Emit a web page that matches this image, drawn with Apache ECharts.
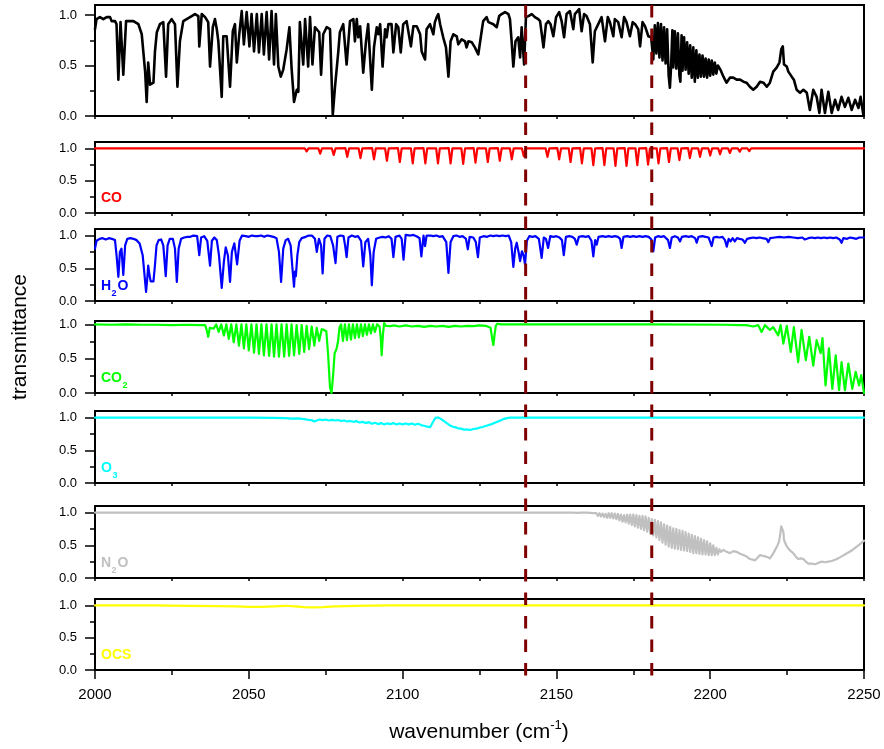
<!DOCTYPE html>
<html>
<head>
<meta charset="utf-8">
<script src="https://cdn.jsdelivr.net/npm/echarts/dist/echarts.min.js"></script>
<style>
html,body{margin:0;padding:0;background:#fff;}
#main{width:884px;height:749px;}
</style>
</head>
<body>
<div id="main"></div>
<script>
// ---------------- DATA (wavenumber, transmittance) ----------------
const xTicksMajor = [2000, 2050, 2100, 2150, 2200, 2250];
const yTickLabels = [0, 0.5, 1.0];
const markerLines = [2140, 2181];

const totalData = [
[2000.0,0.86],[2000.5,0.96],[2001.6,0.98],[2002.7,0.96],[2003.8,0.98],[2004.9,0.98],[2005.4,0.94],[2005.9,0.93],[2006.5,0.94],[2007.0,0.91],
[2007.6,0.36],[2008.3,0.93],[2009.2,0.41],[2010.1,0.94],[2012.5,0.94],[2014.1,0.91],[2015.2,0.81],[2016.3,0.44],[2016.8,0.14],[2017.3,0.53],
[2017.9,0.31],[2019.0,0.33],[2019.5,0.64],[2020.1,0.83],[2021.1,0.91],[2022.2,0.93],[2023.1,0.39],[2023.8,0.91],[2024.9,0.96],[2026.0,0.91],
[2026.8,0.29],[2027.6,0.74],[2028.7,0.94],[2030.9,0.98],[2032.5,1.01],[2033.6,0.99],[2033.9,0.69],[2034.7,1.01],[2035.8,0.98],[2036.8,0.93],
[2037.4,0.49],[2038.3,0.88],[2039.0,0.96],[2039.6,0.86],[2040.1,0.74],[2041.2,0.19],[2041.7,0.79],[2042.3,0.78],[2042.8,0.79],[2043.9,0.29],
[2044.8,0.84],[2045.5,0.91],[2046.1,0.53],[2046.9,0.81],[2047.7,1.04],[2048.4,0.71],[2049.3,1.03],[2050.2,0.69],[2050.9,1.01],[2051.7,0.64],
[2052.6,1.01],[2053.3,0.63],[2054.2,1.01],[2054.9,0.61],[2055.8,1.03],[2056.6,0.56],[2057.4,1.04],[2058.2,0.51],[2058.8,1.01],[2059.6,0.49],
[2060.4,0.39],[2061.2,0.46],[2062.3,0.66],[2063.2,0.88],[2063.9,0.48],[2064.7,0.14],[2065.6,0.26],[2066.1,0.24],[2066.6,0.93],[2067.7,0.51],
[2068.3,0.96],[2069.3,0.49],[2069.9,0.98],[2070.7,0.51],[2071.5,0.88],[2072.9,0.83],[2073.5,0.41],[2074.2,0.81],[2075.3,0.88],[2076.4,0.86],
[2077.3,0.01],[2078.0,0.28],[2079.1,0.64],[2079.6,0.83],[2080.7,0.91],[2081.8,0.51],[2082.9,0.94],[2084.0,0.96],[2084.5,0.74],[2085.1,0.96],
[2085.6,0.78],[2086.2,0.89],[2087.2,0.43],[2088.1,0.74],[2088.8,0.91],[2090.0,0.26],[2090.7,0.68],[2091.6,0.88],[2092.1,0.81],[2092.7,0.91],
[2093.5,0.49],[2094.3,0.86],[2094.8,0.78],[2095.4,0.91],[2096.4,0.91],[2097.0,0.63],[2097.9,0.91],[2098.6,0.88],[2099.4,0.63],[2100.2,0.91],
[2101.3,0.94],[2101.9,0.93],[2102.7,0.69],[2103.5,0.89],[2104.6,0.89],[2105.7,0.81],[2106.2,0.64],[2107.3,0.56],[2107.8,0.86],[2108.9,0.91],
[2110.0,0.81],[2110.5,0.93],[2111.1,0.98],[2111.6,1.01],[2112.2,0.91],[2113.2,0.78],[2114.1,0.68],[2114.9,0.39],[2115.6,0.74],[2116.5,0.81],
[2117.6,0.79],[2118.1,0.71],[2119.2,0.76],[2120.3,0.74],[2120.8,0.68],[2121.4,0.74],[2122.5,0.73],[2123.5,0.68],[2124.6,0.61],[2125.7,0.84],
[2126.2,0.94],[2127.3,0.98],[2127.9,0.93],[2129.5,0.91],[2130.6,0.88],[2131.4,0.99],[2132.2,1.01],[2133.3,1.03],[2134.4,1.01],[2134.9,0.96],
[2135.4,0.76],[2136.0,0.49],[2136.7,0.74],[2137.6,0.78],[2138.2,0.58],[2138.7,0.88],[2139.5,0.51],[2140.1,0.98],[2140.9,0.99],[2142.0,1.01],
[2143.0,0.98],[2144.1,0.96],[2144.7,0.94],[2145.8,0.68],[2146.6,0.91],[2147.4,0.94],[2148.1,0.91],[2149.0,0.79],[2149.9,0.98],[2150.9,1.03],
[2151.7,0.94],[2152.5,0.78],[2153.3,1.01],[2154.4,1.04],[2155.5,0.86],[2156.0,1.01],[2157.4,1.06],[2158.2,0.84],[2159.0,1.01],[2159.8,0.99],
[2160.9,0.91],[2161.8,0.53],[2162.5,0.84],[2163.6,0.91],[2164.7,0.98],[2165.8,0.74],[2166.7,0.98],[2167.4,0.93],[2168.5,0.79],[2169.0,0.96],
[2170.1,0.93],[2171.2,0.78],[2172.0,0.98],[2172.8,0.93],[2173.9,0.79],[2174.8,0.93],[2175.6,0.91],[2176.6,0.86],[2177.2,0.69],[2178.0,0.93],
[2178.8,0.89],[2179.9,0.79],[2180.8,0.78],[2181.5,0.56],[2182.0,0.90],[2182.5,0.62],[2183.0,0.92],[2183.5,0.58],[2184.0,0.91],[2184.5,0.55],
[2185.0,0.88],[2185.5,0.52],[2186.0,0.86],[2186.5,0.40],[2186.9,0.28],[2187.3,0.50],[2187.7,0.85],[2188.0,0.48],[2188.5,0.84],[2189.0,0.47],
[2189.5,0.82],[2190.0,0.40],[2190.3,0.34],[2190.7,0.80],[2191.0,0.45],[2191.5,0.78],[2192.0,0.46],[2192.5,0.73],[2193.0,0.42],[2193.5,0.70],
[2194.0,0.38],[2194.5,0.68],[2195.0,0.34],[2195.5,0.65],[2196.0,0.38],[2196.5,0.61],[2197.0,0.39],[2197.5,0.60],[2198.0,0.39],[2198.5,0.57],
[2199.0,0.38],[2199.5,0.56],[2200.0,0.40],[2200.5,0.55],[2201.0,0.41],[2201.5,0.53],[2202.0,0.42],[2202.5,0.50],[2203.3,0.46],[2204.3,0.39],
[2205.3,0.33],[2206.4,0.38],[2207.5,0.38],[2208.6,0.36],[2209.7,0.36],[2210.8,0.34],[2211.8,0.33],[2212.9,0.29],[2214.0,0.26],[2215.1,0.29],
[2216.2,0.34],[2217.3,0.33],[2218.4,0.29],[2219.4,0.33],[2220.5,0.44],[2221.6,0.48],[2222.5,0.53],[2223.1,0.66],[2223.6,0.69],[2224.0,0.51],
[2224.9,0.49],[2225.4,0.44],[2226.5,0.39],[2227.2,0.36],[2228.1,0.26],[2229.2,0.23],[2230.3,0.26],[2231.4,0.23],[2232.4,0.06],[2233.5,0.26],
[2234.6,0.19],[2235.5,0.03],[2236.2,0.26],[2237.3,0.03],[2238.4,0.24],[2239.5,0.03],[2240.6,0.16],[2241.6,0.06],[2242.7,0.19],[2243.8,0.09],
[2244.9,0.18],[2246.0,0.06],[2247.1,0.16],[2248.2,0.08],[2248.9,0.19],[2249.8,0.01]
];

const coData = [
[2000,1.0],[2050,1.0],[2054.8,1.0],[2055.4,0.995],[2056,1.0],[2059.3,1.0],[2059.9,0.99],[2060.5,1.0],[2063.8,1.0],[2064.4,0.97],[2065,1.0],
[2068.2,1.0],[2068.8,0.955],[2069.4,1.0],[2072.6,1.0],[2073.2,0.92],[2073.8,1.0],[2077.0,1.0],[2077.6,0.90],[2078.2,1.0],[2081.4,1.005],
[2082.0,0.87],[2082.6,1.0],[2085.7,1.0],[2086.3,0.85],[2086.9,1.0],[2090.1,1.005],[2090.7,0.83],[2091.3,1.0],[2094.3,1.0],[2094.9,0.81],
[2095.5,1.0],[2098.5,1.005],[2099.1,0.79],[2099.7,1.0],[2102.7,1.0],[2103.3,0.77],[2103.9,1.0],[2106.8,1.005],[2107.4,0.77],[2108.0,1.0],
[2110.9,1.0],[2111.5,0.77],[2112.1,1.0],[2115.0,1.005],[2115.6,0.77],[2116.2,1.0],[2119.1,1.0],[2119.7,0.76],[2120.3,1.0],[2123.1,1.005],
[2123.7,0.78],[2124.3,1.0],[2127.1,1.0],[2127.7,0.79],[2128.3,1.0],[2131.0,1.005],[2131.6,0.81],[2132.2,1.0],[2134.9,1.0],[2135.5,0.83],
[2136.1,1.0],[2138.8,1.0],[2139.4,0.88],[2140.0,1.0],[2146.5,1.0],[2147.1,0.87],[2147.7,1.0],[2150.3,1.005],[2150.9,0.83],[2151.5,1.0],
[2154.0,1.0],[2154.6,0.79],[2155.2,1.0],[2157.7,1.005],[2158.3,0.77],[2158.9,1.0],[2161.4,1.0],[2162.0,0.74],[2162.6,1.0],[2165.0,1.005],
[2165.6,0.74],[2166.2,1.0],[2168.6,1.0],[2169.2,0.73],[2169.8,1.0],[2172.2,1.005],[2172.8,0.73],[2173.4,1.0],[2175.7,1.0],[2176.3,0.74],
[2176.9,1.0],[2179.2,1.005],[2179.8,0.75],[2180.4,1.0],[2182.6,1.0],[2183.2,0.77],[2183.8,1.0],[2186.0,1.005],[2186.6,0.79],[2187.2,1.0],
[2189.4,1.0],[2190.0,0.82],[2190.6,1.0],[2192.8,1.005],[2193.4,0.85],[2194.0,1.0],[2196.1,1.0],[2196.7,0.87],[2197.3,1.0],[2199.4,1.0],
[2200.0,0.89],[2200.6,1.0],[2202.6,1.0],[2203.2,0.91],[2203.8,1.0],[2205.8,1.0],[2206.4,0.93],[2207.0,1.0],[2209.0,1.0],[2209.6,0.95],
[2210.2,1.0],[2212.1,1.0],[2212.7,0.96],[2213.3,1.0],[2215.2,1.0],[2215.8,0.975],[2216.4,1.0],[2218.3,1.0],[2218.9,0.985],[2219.5,1.0],
[2221.4,1.0],[2222.0,0.99],[2222.6,1.0],[2250,1.0]
];

const h2oData = [
[2000,0.80],[2000.5,0.92],[2001.5,0.95],[2002.5,0.96],[2003.5,0.94],[2004.5,0.96],[2005.5,0.95],[2006.5,0.93],[2007.0,0.70],[2007.6,0.37],
[2008.1,0.75],[2008.6,0.80],[2009.2,0.40],[2009.8,0.85],[2010.5,0.95],[2011.5,0.96],[2012.5,0.95],[2013.5,0.93],[2014.5,0.88],[2015.5,0.70],
[2016.0,0.45],[2016.6,0.14],[2017.0,0.35],[2017.3,0.54],[2017.7,0.40],[2018.1,0.30],[2018.6,0.32],[2019.0,0.30],[2019.5,0.55],[2020.0,0.85],
[2020.7,0.93],[2021.5,0.94],[2022.2,0.85],[2023.0,0.38],[2023.6,0.85],[2024.3,0.95],[2025.3,0.95],[2026.0,0.80],[2026.6,0.29],[2027.2,0.80],
[2028.0,0.95],[2029.0,0.97],[2030,0.98],[2031,0.98],[2032,1.0],[2033.2,0.99],[2033.9,0.70],[2034.5,0.97],[2035.5,0.99],[2036.5,0.92],
[2037.4,0.54],[2038.0,0.92],[2038.8,0.97],[2039.6,0.93],[2040.3,0.70],[2041.2,0.20],[2041.9,0.60],[2042.5,0.82],[2043.2,0.70],[2043.9,0.29],
[2044.5,0.75],[2045.3,0.88],[2046.2,0.56],[2047.0,0.92],[2047.8,1.0],[2049,0.99],[2050,0.98],[2051,1.0],[2052,0.99],[2053,0.99],[2054,1.0],
[2055,0.98],[2056,1.0],[2057,0.99],[2058,0.98],[2059,0.96],[2059.8,0.75],[2060.5,0.29],[2061.2,0.80],[2062.0,0.93],[2062.8,0.95],[2063.6,0.85],
[2064.1,0.55],[2064.7,0.22],[2065.0,0.45],[2065.3,0.38],[2065.8,0.70],[2066.4,0.90],[2067.2,0.96],[2068.5,0.98],[2069.5,1.0],[2070.5,1.0],
[2071.5,0.95],[2072.1,0.75],[2072.8,0.95],[2073.5,0.85],[2074.0,0.42],[2074.6,0.95],[2075.5,1.0],[2076.5,0.99],[2077.4,0.85],[2078.2,0.58],
[2078.8,0.98],[2079.8,1.0],[2080.8,0.99],[2081.3,0.85],[2081.8,0.67],[2082.4,0.97],[2083.5,1.0],[2084.5,0.98],[2085.5,0.99],[2086.5,0.92],
[2087.2,0.53],[2087.9,0.90],[2088.8,0.95],[2089.5,0.70],[2090.0,0.24],[2090.6,0.75],[2091.4,0.95],[2092.5,0.97],[2093.5,0.98],[2094.5,0.97],
[2095.5,0.99],[2096.4,0.95],[2097.0,0.67],[2097.7,0.98],[2099.0,1.0],[2099.7,0.95],[2100.3,0.63],[2101.0,1.01],[2102.5,1.0],[2103.5,1.01],
[2104.5,0.99],[2105.5,0.96],[2106.1,0.68],[2106.8,1.0],[2107.3,0.84],[2107.8,1.0],[2109,1.0],[2110,0.99],[2111,1.0],[2112,0.98],[2113,0.99],
[2114.2,0.90],[2114.9,0.43],[2115.6,0.90],[2116.5,0.99],[2117.5,1.0],[2118.5,0.98],[2119.5,0.99],[2120.6,0.95],[2121.2,0.79],[2121.8,0.98],
[2123.0,0.97],[2123.8,0.90],[2124.5,0.67],[2125.1,0.97],[2126.3,0.99],[2127.5,0.98],[2128.5,1.0],[2129.5,0.99],[2130.5,1.0],[2131.5,0.99],
[2132.5,1.0],[2133.5,0.99],[2134.5,1.0],[2135.3,0.90],[2136.0,0.52],[2136.6,0.80],[2137.1,0.89],[2137.7,0.75],[2138.2,0.61],[2138.8,0.76],
[2139.3,0.70],[2139.8,0.56],[2140.4,0.92],[2141.2,0.99],[2142.2,0.98],[2143.2,0.99],[2144.3,0.95],[2145.2,0.66],[2145.9,0.97],[2146.6,0.95],
[2147.3,0.81],[2148.0,0.99],[2149,0.98],[2150,0.99],[2151,0.97],[2151.8,0.93],[2152.4,0.70],[2153.1,0.98],[2154.2,0.99],[2155.2,0.98],
[2156.0,0.95],[2156.6,0.86],[2157.3,0.98],[2158.5,0.99],[2159.5,0.98],[2160.5,0.99],[2161.4,0.92],[2162.0,0.68],[2162.6,0.93],[2163.1,0.86],
[2163.7,0.98],[2165,0.99],[2166,0.98],[2167,0.99],[2168,0.98],[2169,0.99],[2170,0.98],[2170.7,0.95],[2171.2,0.81],[2171.8,0.98],[2173,0.99],
[2174,0.98],[2175,0.99],[2176,0.98],[2177,0.99],[2178,0.98],[2179,0.99],[2180,0.98],[2180.9,0.94],[2181.5,0.76],[2182.1,0.97],[2183,0.99],
[2184,0.98],[2185,0.99],[2186.3,0.93],[2186.9,0.81],[2187.5,0.97],[2188.5,0.99],[2189.5,0.97],[2190.2,0.91],[2190.8,0.98],[2192,0.99],
[2193,0.98],[2194,0.99],[2195.1,0.96],[2195.6,0.89],[2196.2,0.98],[2197.5,0.99],[2198.5,0.98],[2199.5,0.97],[2200.5,0.84],[2201.1,0.97],
[2202,0.98],[2203,0.97],[2204,0.98],[2204.8,0.93],[2205.4,0.83],[2206.0,0.95],[2206.6,0.91],[2207.3,0.96],[2208.0,0.91],[2208.7,0.96],
[2209.5,0.95],[2210.5,0.94],[2211.3,0.89],[2212,0.95],[2213,0.96],[2214,0.97],[2215,0.96],[2216,0.97],[2217,0.96],[2218.3,0.95],[2218.9,0.90],
[2219.5,0.96],[2221,0.97],[2222.5,0.98],[2224,0.97],[2225.5,0.98],[2227,0.97],[2228.5,0.96],[2230,0.97],[2230.7,0.94],[2231.3,0.91],
[2231.9,0.96],[2233,0.97],[2234,0.96],[2235,0.97],[2236,0.96],[2237,0.97],[2238,0.96],[2239,0.97],[2240,0.96],[2241,0.97],[2242.1,0.94],
[2242.7,0.89],[2243.3,0.96],[2244.5,0.95],[2245.5,0.97],[2246.5,0.96],[2247.5,0.95],[2248.5,0.97],[2250,0.97]
];

const co2Data = [
[2000,1.0],[2005,0.995],[2010,1.0],[2015,0.995],[2020,0.995],[2025,0.99],[2030,0.995],[2034,0.99],[2035.8,0.99],[2036.3,0.92],
[2036.8,0.82],[2037.3,0.95],[2037.8,0.97],[2038.6,0.94],[2039.4,1.0],[2040.2,0.89],[2041.05,1.0],[2041.9,0.84],[2042.7,1.0],[2043.5,0.79],
[2044.3,1.0],[2045.1,0.74],[2045.95,1.0],[2046.8,0.69],[2047.6,1.0],[2048.4,0.65],[2049.2,1.0],[2050.0,0.62],[2050.85,1.0],[2051.7,0.59],
[2052.5,1.0],[2053.3,0.57],[2054.1,1.0],[2054.9,0.55],[2055.75,1.0],[2056.6,0.54],[2057.4,1.0],[2058.2,0.53],[2059.0,1.0],[2059.8,0.53],
[2060.65,1.0],[2061.5,0.53],[2062.3,1.0],[2063.1,0.54],[2063.9,1.0],[2064.7,0.55],[2065.55,0.99],[2066.4,0.57],[2067.2,0.99],[2068.0,0.60],
[2068.8,0.98],[2069.6,0.64],[2070.45,0.97],[2071.3,0.69],[2072.1,0.95],[2072.9,0.76],[2073.7,0.93],[2074.4,0.92],[2075.2,0.90],[2075.8,0.55],
[2076.4,0.08],[2076.9,0.0],[2077.4,0.25],[2077.9,0.58],[2078.5,0.64],[2079.0,0.75],[2079.5,0.96],[2080.0,1.0],[2080.6,0.76],[2081.25,1.0],
[2081.9,0.77],[2082.55,1.0],[2083.2,0.78],[2083.85,1.0],[2084.5,0.80],[2085.15,1.0],[2085.8,0.81],[2086.45,1.0],[2087.1,0.83],[2087.75,1.0],
[2088.4,0.85],[2089.05,1.0],[2089.7,0.87],[2090.35,1.0],[2091.0,0.89],[2091.7,1.0],[2092.5,0.97],[2092.9,0.80],[2093.2,0.55],[2093.6,0.85],
[2094.0,1.02],[2094.6,0.98],[2096,0.975],[2097,0.985],[2099,0.97],[2101,0.985],[2103,0.97],[2105,0.98],[2107,0.965],[2109,0.98],[2111,0.97],
[2113,0.98],[2115,0.965],[2117,0.98],[2119,0.97],[2121,0.98],[2123,0.975],[2125,0.985],[2127,0.98],[2128.6,0.95],[2129.1,0.80],[2129.5,0.70],
[2129.9,0.85],[2130.3,0.98],[2130.8,1.01],[2132,1.0],[2150,1.0],[2180,1.0],[2205,0.995],[2209.7,0.99],[2211.8,0.99],[2214.0,0.97],
[2215.6,0.99],[2216.7,0.89],[2217.8,0.99],[2219.4,0.92],[2220.5,0.96],[2222.1,0.84],[2222.9,0.99],[2223.8,0.72],[2224.9,0.98],[2226.2,0.60],
[2227.2,0.96],[2228.6,0.45],[2229.7,0.92],[2231.1,0.48],[2232.2,0.82],[2233.5,0.40],[2234.6,0.77],[2235.9,0.58],[2236.5,0.80],[2237.5,0.11],
[2238.6,0.65],[2239.7,0.06],[2240.8,0.55],[2241.9,0.04],[2242.7,0.45],[2243.8,0.04],[2244.9,0.43],[2246.2,0.06],[2247.3,0.31],[2248.4,0.11],
[2249.1,0.26],[2250.0,0.0]
];

const o3Data = [
[2000,1.0],[2030,1.0],[2050,0.998],[2058,0.995],[2062,0.99],[2064,0.985],[2066,0.988],[2068,0.975],[2069.5,0.965],[2070.5,0.96],
[2071.2,0.94],[2071.8,0.965],[2073,0.97],[2074,0.96],[2075,0.97],[2076,0.955],[2077,0.965],[2078,0.955],[2079,0.962],[2080,0.948],
[2081,0.955],[2082,0.94],[2083,0.948],[2084,0.935],[2085,0.945],[2086,0.925],[2087,0.935],[2088,0.915],[2089,0.93],[2090,0.905],
[2091,0.92],[2092,0.90],[2093,0.915],[2094,0.895],[2095,0.91],[2096,0.90],[2097,0.915],[2098,0.895],[2099,0.91],[2100,0.895],
[2101,0.91],[2102,0.895],[2103,0.91],[2104,0.89],[2105,0.905],[2106,0.885],[2107,0.875],[2108,0.86],[2109,0.855],[2109.6,0.88],
[2110.2,0.96],[2110.8,1.0],[2111.6,1.0],[2112.4,0.98],[2113.2,0.955],[2114.0,0.925],[2114.8,0.90],[2115.6,0.875],[2116.4,0.86],[2117.2,0.85],
[2118,0.835],[2119,0.83],[2120,0.815],[2121,0.82],[2122,0.81],[2123,0.825],[2124,0.83],[2125,0.845],[2126,0.855],[2127,0.87],
[2128,0.885],[2129,0.90],[2130,0.92],[2131,0.94],[2132,0.96],[2133,0.98],[2134,0.99],[2135,1.0],[2250,1.0]
];

const n2oData = [
[2000,1.0],[2100,1.0],[2150,1.0],[2155,1.0],[2157,0.995],
[2158.0,1.0],[2158.5,0.99],[2159.0,1.0],[2159.5,0.985],[2160.0,1.0],[2160.5,0.98],[2161.0,0.995],[2161.5,0.97],[2162.0,0.99],[2162.5,0.96],
[2163.0,0.99],[2163.5,0.95],[2164.0,0.99],[2164.5,0.94],[2165.0,0.985],[2165.5,0.93],[2166.0,0.98],[2166.5,0.92],[2167.0,0.99],[2167.5,0.92],
[2168.0,0.99],[2168.5,0.91],[2169.0,0.985],[2169.5,0.90],[2170.0,0.98],[2170.5,0.88],[2171.0,0.97],[2171.5,0.86],[2172.0,0.96],[2172.5,0.85],
[2173.0,0.97],[2173.5,0.83],[2174.0,0.97],[2174.5,0.81],[2175.0,0.97],[2175.5,0.79],[2176.0,0.96],[2176.5,0.77],[2177.0,0.95],[2177.5,0.75],
[2178.0,0.95],[2178.5,0.73],[2179.0,0.94],[2179.5,0.71],[2180.0,0.92],[2180.5,0.68],[2181.0,0.90],[2181.5,0.65],[2182.0,0.89],[2182.5,0.62],
[2183.0,0.87],[2183.5,0.58],[2184.0,0.85],[2184.5,0.54],[2185.0,0.82],[2185.5,0.51],[2186.0,0.80],[2186.5,0.48],[2187.0,0.78],[2187.5,0.46],
[2188.0,0.76],[2188.5,0.45],[2189.0,0.75],[2189.5,0.44],[2190.0,0.73],[2190.5,0.43],[2191.0,0.72],[2191.5,0.42],[2192.0,0.70],[2192.5,0.41],
[2193.0,0.68],[2193.5,0.40],[2194.0,0.66],[2194.5,0.38],[2195.0,0.64],[2195.5,0.38],[2196.0,0.62],[2196.5,0.37],[2197.0,0.60],[2197.5,0.36],
[2198.0,0.58],[2198.5,0.36],[2199.0,0.56],[2199.5,0.35],[2200.0,0.53],[2200.5,0.35],[2201.0,0.50],[2201.5,0.35],[2202.0,0.46],[2202.5,0.36],
[2203.0,0.44],[2203.5,0.40],[2204.3,0.43],[2205.3,0.40],[2206.4,0.38],[2207.5,0.41],[2208.6,0.40],[2209.7,0.37],[2210.8,0.35],[2211.8,0.33],
[2212.9,0.29],[2213.8,0.28],[2214.6,0.27],[2215.4,0.31],[2216.2,0.35],[2217.0,0.34],[2217.8,0.33],[2218.6,0.32],[2219.4,0.30],[2220.3,0.36],
[2221.1,0.43],[2221.8,0.49],[2222.4,0.56],[2222.8,0.68],[2223.1,0.79],[2223.5,0.81],[2223.8,0.70],[2224.0,0.58],[2224.7,0.50],[2225.4,0.45],
[2226.2,0.41],[2227.0,0.38],[2227.8,0.33],[2228.6,0.29],[2229.5,0.30],[2230.3,0.29],[2231.1,0.25],[2231.9,0.22],[2233.0,0.22],[2234.1,0.21],
[2235.1,0.23],[2236.2,0.25],[2237.3,0.24],[2238.4,0.25],[2239.5,0.26],[2240.6,0.28],[2241.6,0.30],[2242.7,0.33],[2243.8,0.36],[2244.9,0.39],
[2246.0,0.42],[2247.1,0.46],[2248.5,0.51],[2250.0,0.57]
];

const ocsData = [
[2000,1.0],[2020,1.0],[2030,0.995],[2040,0.99],[2046,0.985],[2050,0.978],[2054,0.978],[2058,0.985],[2061.8,0.995],[2065,0.985],
[2068,0.975],[2070.5,0.97],[2074,0.975],[2078,0.985],[2085,0.995],[2095,1.0],[2150,1.0],[2250,1.0]
];

// ---------------- LAYOUT / STYLE ----------------
const FONT = '"Liberation Sans", Arial, Helvetica, sans-serif';
const panels = [
  {data: totalData, color: '#000000', width: 2.6, top: 5,   height: 111, max: 1.1,  label: null},
  {data: coData,    color: '#ff0000', width: 2.2, top: 142, height: 71,  max: 1.1,  label: ['CO', '']},
  {data: h2oData,   color: '#0000ff', width: 2.2, top: 229, height: 72,  max: 1.1,  label: ['H', '2', 'O']},
  {data: co2Data,   color: '#00ff00', width: 2.2, top: 321, height: 72,  max: 1.05, label: ['CO', '2']},
  {data: o3Data,    color: '#00ffff', width: 2.2, top: 411, height: 72,  max: 1.1,  label: ['O', '3']},
  {data: n2oData,   color: '#c0c0c0', width: 2.2, top: 506, height: 72,  max: 1.1,  label: ['N', '2', 'O']},
  {data: ocsData,   color: '#ffff00', width: 2.2, top: 599, height: 71,  max: 1.1,  label: ['OCS', '']}
];
const LEFT = 95, RIGHT = 20;
const last = panels.length - 1;

const grids = [], xAxes = [], yAxes = [], series = [], graphics = [];
panels.forEach((p, i) => {
  grids.push({left: LEFT, right: RIGHT, top: p.top, height: p.height, show: true,
    borderColor: '#000', borderWidth: 2, backgroundColor: 'rgba(0,0,0,0)'});
  const isBottom = i === last;
  xAxes.push({
    gridIndex: i, type: 'value', min: 2000, max: 2250, interval: isBottom ? 50 : 25,
    axisLine: {show: true, onZero: false, lineStyle: {color: '#000', width: 2}},
    axisTick: {show: true, length: isBottom ? 9 : 3, lineStyle: {color: '#000', width: 1.5}},
    minorTick: {show: isBottom, splitNumber: 2, length: 5, lineStyle: {color: '#000', width: 1.5}},
    axisLabel: {show: isBottom, fontSize: 15, color: '#000', fontFamily: FONT, margin: 17,
      customValues: xTicksMajor, formatter: v => String(v)},
    splitLine: {show: false}, minorSplitLine: {show: false}
  });
  yAxes.push({
    gridIndex: i, type: 'value', min: 0, max: p.max, position: 'left',
    axisLine: {show: true, onZero: false, lineStyle: {color: '#000', width: 2}},
    axisTick: {show: true, length: 5, customValues: [0, 0.25, 0.5, 0.75, 1.0], lineStyle: {color: '#000', width: 1.5}},
    axisLabel: {show: false}, splitLine: {show: false}
  });
  yAxes.push({
    gridIndex: i, type: 'value', min: 0, max: p.max, position: 'left',
    axisLine: {show: false},
    axisTick: {show: true, length: 10, customValues: yTickLabels, lineStyle: {color: '#000', width: 1.5}},
    axisLabel: {show: true, customValues: yTickLabels, formatter: v => v.toFixed(1),
      fontSize: 13, color: '#000', fontFamily: FONT, margin: 18},
    splitLine: {show: false}
  });
  series.push({
    type: 'line', xAxisIndex: i, yAxisIndex: 2 * i, data: p.data,
    showSymbol: false, symbol: 'none', clip: true, silent: true,
    lineStyle: {color: p.color, width: p.width, join: 'round', cap: 'round'}
  });
  if (p.label) {
    const cy = p.top + p.height - 14;
    const parts = p.label;
    const capFont = 'bold 14px ' + FONT;
    const subFont = 'bold 9px ' + FONT;
    const w0 = echarts.format.getTextRect ? echarts.format.getTextRect(parts[0], capFont).width : parts[0].length * 10;
    let x = 101;
    graphics.push({type: 'text', id: 'lab' + i + 'a', left: x, top: cy - 8, z: 50,
      style: {text: parts[0], font: capFont, fill: p.color}});
    if (parts[1]) {
      x += w0 + 0.5;
      graphics.push({type: 'text', id: 'lab' + i + 'b', left: x, top: cy + 2, z: 50,
        style: {text: parts[1], font: subFont, fill: p.color}});
      x += 6;
      if (parts[2]) {
        graphics.push({type: 'text', id: 'lab' + i + 'c', left: x, top: cy - 8, z: 50,
          style: {text: parts[2], font: capFont, fill: p.color}});
      }
    }
  }
});

graphics.push({type: 'text', id: 'ytitle', x: 20, y: 337, rotation: Math.PI / 2, z: 50,
  style: {text: 'transmittance', font: '21px ' + FONT, fill: '#000', align: 'center', verticalAlign: 'middle'}});
graphics.push({type: 'text', id: 'xtitle', x: 479, y: 731, z: 50,
  style: {text: '{a|wavenumber (cm}{s|-1}{a|)}', align: 'center', verticalAlign: 'middle',
    rich: {a: {font: '21px ' + FONT, fill: '#000', verticalAlign: 'bottom', lineHeight: 24},
           s: {font: '13px ' + FONT, fill: '#000', verticalAlign: 'top', lineHeight: 24}}}});

const chart = echarts.init(document.getElementById('main'), null, {renderer: 'canvas'});
chart.setOption({
  animation: false,
  backgroundColor: '#fff',
  grid: grids, xAxis: xAxes, yAxis: yAxes, series: series, graphic: graphics
});

// dashed marker lines placed through the axis scale
const yTopPx = panels[0].top;
const yBotPx = panels[last].top + panels[last].height + 11;
const dash = markerLines.map((v, k) => {
  const px = chart.convertToPixel({xAxisIndex: 0}, v);
  return {type: 'line', id: 'mark' + k, z: 100,
    shape: {x1: px, y1: yTopPx, x2: px, y2: yBotPx},
    style: {stroke: '#800000', lineWidth: 3, lineDash: [12.5, 11]}};
});
chart.setOption({graphic: dash});
</script>
</body>
</html>
